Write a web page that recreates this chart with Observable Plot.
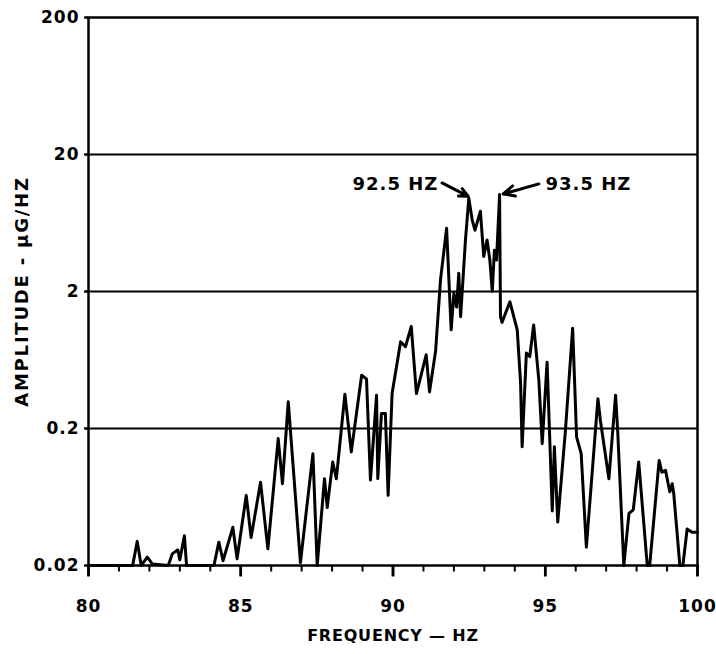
<!DOCTYPE html>
<html>
<head>
<meta charset="utf-8">
<script src="https://cdn.jsdelivr.net/npm/d3@7"></script>
<script src="https://cdn.jsdelivr.net/npm/@observablehq/plot@0.6"></script>
<style>
  html, body { margin: 0; padding: 0; background: #fff; }
  svg text { letter-spacing: 1px; }
  svg .ylab text { letter-spacing: 1.8px; }
  svg .xlab text { letter-spacing: 0.8px; }
</style>
</head>
<body>
<div id="chart"></div>
<script>
// Frequency (Hz) and amplitude (µG/Hz)
const freq = [80.0, 81.45, 81.6, 81.73, 81.93, 82.1, 82.62, 82.75, 82.93, 83.0, 83.15, 83.22,
  84.12, 84.28, 84.42, 84.74, 84.88, 85.18, 85.34, 85.65, 85.89, 86.23, 86.37, 86.56, 86.96,
  87.37, 87.51, 87.75, 87.84, 88.02, 88.14, 88.42, 88.63, 88.97, 89.13, 89.26, 89.46, 89.5,
  89.62, 89.75, 89.84, 89.97, 90.25, 90.41, 90.6, 90.77, 91.09, 91.2, 91.4, 91.56, 91.76,
  91.91, 92.0, 92.09, 92.16, 92.22, 92.38, 92.49, 92.6, 92.69, 92.87, 92.98, 93.09, 93.18,
  93.26, 93.33, 93.4, 93.5, 93.53, 93.58, 93.84, 94.08, 94.19, 94.24, 94.38, 94.49, 94.62,
  94.79, 94.9, 95.06, 95.23, 95.3, 95.41, 95.66, 95.9, 96.03, 96.18, 96.35, 96.73, 96.81,
  97.09, 97.31, 97.38, 97.58, 97.75, 97.89, 98.07, 98.35, 98.43, 98.74, 98.83, 98.95, 99.09,
  99.17, 99.22, 99.42, 99.52, 99.66, 99.82, 100.0];
const amplitude = [0.02, 0.02, 0.030, 0.02, 0.023, 0.0205, 0.02, 0.0243, 0.026, 0.022, 0.033, 0.02,
  0.02, 0.0296, 0.0217, 0.038, 0.0224, 0.065, 0.032, 0.081, 0.0265, 0.169, 0.079, 0.313, 0.021,
  0.131, 0.02, 0.086, 0.053, 0.114, 0.086, 0.356, 0.135, 0.49, 0.46, 0.084, 0.35, 0.086,
  0.257, 0.257, 0.065, 0.36, 0.86, 0.79, 1.11, 0.36, 0.69, 0.37, 0.74, 2.43, 5.8,
  1.05, 1.94, 1.54, 2.72, 1.31, 4.76, 9.6, 6.67, 5.6, 7.7, 3.6, 4.76, 3.4,
  2.0, 4.0, 3.4, 10.2, 1.31, 1.19, 1.68, 1.05, 0.43, 0.147, 0.71, 0.67, 1.14,
  0.45, 0.155, 0.61, 0.05, 0.147, 0.0415, 0.19, 1.08, 0.173, 0.131, 0.0272, 0.33, 0.23,
  0.086, 0.35, 0.19, 0.02, 0.048, 0.051, 0.114, 0.02, 0.02, 0.117, 0.096, 0.099, 0.069,
  0.079, 0.067, 0.02, 0.02, 0.037, 0.035, 0.035];

const yTicks = [0.02, 0.2, 2, 20, 200];
const yTickLabels = ["0.02", "0.2", "2", "20", "200"];
const gridValues = [0.2, 2, 20];
const xMinorTicks = d3.range(81, 100, 1).filter((v) => v % 5 !== 0);
const xMajorTicks = [80, 85, 90, 95, 100];
const xMin = 80, xMax = 100, yMin = 0.02, yMax = 200;

// Peak annotations
const annoLeftLabel = "92.5 HZ";
const annoLeftX = 91.49;
const annoRightLabel = "93.5 HZ";
const annoRightX = 95.01;
const annoY = 12.2;
const arrowX1 = [91.61, 94.79];
const arrowY1 = [12.4, 12.2];
const arrowX2 = [92.47, 93.62];
const arrowY2 = [9.9, 10.3];

const xLabel = "FREQUENCY \u2014 HZ";
const yLabel = "AMPLITUDE - \u03BCG/HZ";

const series = freq.map((f, i) => ({f, a: amplitude[i]}));
const arrows = arrowX1.map((x1, i) => ({x1, y1: arrowY1[i], x2: arrowX2[i], y2: arrowY2[i]}));

// Tick shapes as custom dot symbols (rectangles hanging below / left of the anchor)
const minorTickSymbol = {draw(ctx) { ctx.rect(-1, 0, 2, 6); }};
const majorTickSymbol = {draw(ctx) { ctx.rect(-1.3, 0, 2.6, 11); }};
const yStubSymbol = {draw(ctx) { ctx.rect(-4, -1, 4, 2); }};

const chart = Plot.plot({
  width: 716,
  height: 654,
  marginLeft: 88,
  marginRight: 19,
  marginTop: 17,
  marginBottom: 89,
  style: {fontFamily: "DejaVu Sans", fontWeight: "bold", fontSize: "17px", color: "#000", background: "#fff", overflow: "visible"},
  x: {domain: [xMin, xMax]},
  y: {type: "log", domain: [yMin, yMax]},
  marks: [
    Plot.ruleY(gridValues, {stroke: "#000", strokeWidth: 2}),
    Plot.axisY({ticks: yTicks, tickFormat: (d) => yTickLabels[yTicks.indexOf(d)] ?? "", tickSize: 4, tickPadding: 5, fontSize: 17, label: null, strokeWidth: 2}),
    Plot.axisX({ticks: xMajorTicks, tickFormat: (d) => String(d), tickSize: 11, tickPadding: 23, fontSize: 17, label: null, strokeWidth: 2.5}),
    Plot.line(series, {x: "f", y: "a", stroke: "#000", strokeWidth: 3, strokeLinejoin: "round"}),
    Plot.frame({stroke: "#000", strokeWidth: 2.5}),
    Plot.dot(xMinorTicks, {x: (d) => d, y: yMin, symbol: minorTickSymbol, fill: "#000", stroke: "none", r: 3}),
    Plot.dot(xMajorTicks, {x: (d) => d, y: yMin, symbol: majorTickSymbol, fill: "#000", stroke: "none", r: 3}),
    Plot.dot(yTicks, {x: xMin, y: (d) => d, symbol: yStubSymbol, fill: "#000", stroke: "none", r: 3}),
    Plot.arrow(arrows, {x1: "x1", y1: "y1", x2: "x2", y2: "y2", stroke: "#000", strokeWidth: 3, headLength: 12, headAngle: 50}),
    Plot.text([annoLeftLabel], {x: annoLeftX, y: annoY, textAnchor: "end", fontSize: 18, fill: "#000"}),
    Plot.text([annoRightLabel], {x: annoRightX, y: annoY, textAnchor: "start", fontSize: 18, fill: "#000"}),
    Plot.text([xLabel], {frameAnchor: "bottom", dy: 70, lineAnchor: "middle", textAnchor: "middle", fontSize: 16, fill: "#000", className: "xlab"}),
    Plot.text([yLabel], {frameAnchor: "left", dx: -66, rotate: -90, textAnchor: "middle", lineAnchor: "middle", fontSize: 18, fill: "#000", className: "ylab"})
  ]
});
document.getElementById("chart").appendChild(chart);
</script>
</body>
</html>
